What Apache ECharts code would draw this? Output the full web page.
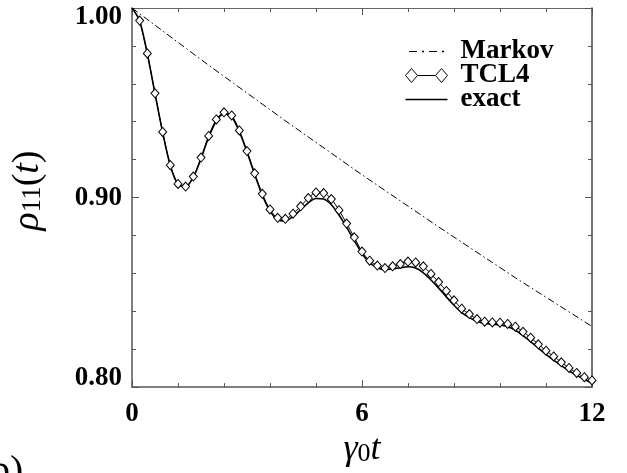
<!DOCTYPE html>
<html><head><meta charset="utf-8">
<script src="https://cdn.jsdelivr.net/npm/echarts@6/dist/echarts.min.js"></script>
<style>html,body{margin:0;padding:0;background:#fff}#c{width:627px;height:473px}</style>
</head><body><div id="c"></div>
<script>
// time grid (gamma0 t)
const tGrid = [0,0.2,0.4,0.6,0.8,1.0,1.2,1.4,1.6,1.8,2.0,2.2,2.4,2.6,2.8,3.0,3.2,3.4,3.6,3.8,
  4.0,4.2,4.4,4.6,4.8,5.0,5.2,5.4,5.6,5.8,6.0,6.2,6.4,6.6,6.8,7.0,7.2,7.4,7.6,7.8,
  8.0,8.2,8.4,8.6,8.8,9.0,9.2,9.4,9.6,9.8,10.0,10.2,10.4,10.6,10.8,11.0,11.2,11.4,11.6,11.8,12.0];
// TCL4 values (diamonds), starting at t=0.2
const tcl4Vals = [0.9934,0.9760,0.9550,0.9346,0.9171,0.9072,0.9058,0.9111,0.9211,0.9325,
  0.9412,0.9450,0.9433,0.9354,0.9245,0.9128,0.9020,0.8937,0.8893,0.8888,
  0.8915,0.8954,0.8997,0.9027,0.9024,0.8992,0.8933,0.8863,0.8790,0.8715,
  0.8667,0.8641,0.8628,0.8637,0.8649,0.8662,0.8658,0.8637,0.8597,0.8554,
  0.8507,0.8458,0.8414,0.8385,0.8359,0.8345,0.8341,0.8340,0.8333,0.8319,
  0.8292,0.8261,0.8226,0.8192,0.8162,0.8131,0.8101,0.8075,0.8052,0.8035];
// exact values, starting at t=0
const exactVals = [1.0000,0.9932,0.9758,0.9548,0.9343,0.9168,0.9070,0.9057,0.9108,0.9205,
  0.9318,0.9404,0.9442,0.9425,0.9348,0.9240,0.9122,0.9012,0.8928,0.8883,
  0.8877,0.8900,0.8936,0.8972,0.8995,0.8992,0.8962,0.8908,0.8843,0.8773,
  0.8705,0.8656,0.8630,0.8620,0.8624,0.8630,0.8635,0.8628,0.8603,0.8565,
  0.8522,0.8476,0.8432,0.8393,0.8367,0.8347,0.8336,0.8332,0.8328,0.8318,
  0.8300,0.8272,0.8240,0.8206,0.8173,0.8142,0.8113,0.8086,0.8062,0.8041,0.8020];
// Markov decay
const markovT = [0,2,4,6,8,10,12];
const markovVals = [1.0000,0.9698,0.9405,0.9120,0.8845,0.8577,0.8320];
const xTickLabels = ['0','6','12'];
const yTickLabels = ['0.80','0.90','1.00'];

const SERIF = "'Liberation Serif','Times New Roman',serif";
const chart = echarts.init(document.getElementById('c'));

const tcl4Data = tcl4Vals.map((v,i)=>[tGrid[i+1], v]);
const exactData = exactVals.map((v,i)=>[tGrid[i], v]);
const markovData = markovVals.map((v,i)=>[markovT[i], v]);

const axisLineStyle = {color:'#555', width:1.5};
const lblStyle = {fontFamily:SERIF, fontWeight:'bold', fontSize:27, color:'#000'};

chart.setOption({
  animation:false,
  backgroundColor:'#fff',
  grid:{left:132, right:35, top:8, bottom:82, containLabel:false},
  xAxis:[{
    type:'value', min:0, max:12, interval:6, position:'bottom',
    axisLine:{show:true, onZero:false, lineStyle:axisLineStyle},
    axisTick:{show:true, inside:true, length:7, lineStyle:{color:'#555', width:1}},
    minorTick:{show:true, splitNumber:5, length:4, lineStyle:{color:'#555', width:1}},
    splitLine:{show:false},
    axisLabel:Object.assign({margin:13, formatter:v=>xTickLabels[Math.round(v/6)]}, lblStyle),
    name:'{g|γ}{s|0}{t|t}', nameLocation:'middle', nameGap:37,
    nameTextStyle:{rich:{
      g:{fontFamily:SERIF, fontStyle:'italic', fontSize:36, color:'#000'},
      s:{fontFamily:SERIF, fontSize:26, color:'#000', padding:[8,0,0,0]},
      t:{fontFamily:SERIF, fontStyle:'italic', fontSize:36, color:'#000'}
    }}
  },{
    type:'value', min:0, max:12, interval:6, position:'top',
    axisLine:{show:true, onZero:false, lineStyle:{color:'#666', width:1}},
    axisTick:{show:true, inside:true, length:7, lineStyle:{color:'#555', width:1}},
    minorTick:{show:true, splitNumber:5, length:4, lineStyle:{color:'#555', width:1}},
    splitLine:{show:false}, axisLabel:{show:false}
  }],
  yAxis:[{
    type:'value', min:0.8, max:1.0, interval:0.1, position:'left',
    axisLine:{show:true, onZero:false, lineStyle:axisLineStyle},
    axisTick:{show:true, inside:true, length:7, lineStyle:{color:'#555', width:1}},
    minorTick:{show:true, splitNumber:5, length:4, lineStyle:{color:'#555', width:1}},
    splitLine:{show:false},
    axisLabel:Object.assign({margin:10,
      formatter:v=>{
        const idx = Math.round((v-0.8)/0.1);
        const s = yTickLabels[idx];
        if(idx===2) return '{hi|'+s+'}';
        if(idx===0) return '{lo|'+s+'}';
        return '{n|'+s+'}';
      },
      rich:{
        hi:Object.assign({padding:[19,0,0,0]}, lblStyle),
        lo:Object.assign({padding:[0,0,18,0]}, lblStyle),
        n:Object.assign({}, lblStyle)
      }}, lblStyle),
    name:'{r|ρ}{s|11}{p|(}{t|t}{p|)}', nameLocation:'middle', nameGap:85, nameRotate:90,
    nameTextStyle:{rich:{
      r:{fontFamily:SERIF, fontStyle:'italic', fontSize:38, color:'#000', padding:[0,0,0,14]},
      s:{fontFamily:SERIF, fontSize:27, color:'#000', padding:[10,0,0,0]},
      p:{fontFamily:SERIF, fontSize:38, color:'#000'},
      t:{fontFamily:SERIF, fontStyle:'italic', fontSize:38, color:'#000'}
    }}
  },{
    type:'value', min:0.8, max:1.0, interval:0.1, position:'right',
    axisLine:{show:true, onZero:false, lineStyle:{color:'#444', width:1.5}},
    axisTick:{show:true, inside:true, length:7, lineStyle:{color:'#555', width:1}},
    minorTick:{show:true, splitNumber:5, length:4, lineStyle:{color:'#555', width:1}},
    splitLine:{show:false}, axisLabel:{show:false}
  }],
  legend:{
    orient:'vertical', left:400, top:33, itemWidth:42, itemHeight:14, itemGap:-3,
    textStyle:{fontFamily:SERIF, fontWeight:'bold', fontSize:27, color:'#000', padding:[0,0,0,8]},
    data:[
      {name:'Markov', icon:'path://M0,0L0,0 M0,14L0,14 M0,6.4L8,6.4L8,7.6L0,7.6Z M13,6.3L15,6.3L15,7.7L13,7.7Z M20,6.4L28,6.4L28,7.6L20,7.6Z M33,6.3L35,6.3L35,7.7L33,7.7Z',
        itemStyle:{color:'#000', borderWidth:0}},
      {name:'TCL4', icon:'path://M0,7L6,0L12,7L6,14Z M12,7L30,7 M30,7L36,0L42,7L36,14Z',
        itemStyle:{color:'#fff', borderColor:'#000', borderWidth:1}},
      {name:'exact', icon:'path://M0,0L0,0 M0,14L0,14 M0,6.3L42,6.3L42,7.7L0,7.7Z',
        itemStyle:{color:'#000', borderWidth:0}}
    ]
  },
  graphic:[{type:'text', left:-10, top:452, style:{text:'b)', fontFamily:SERIF, fontSize:40, fill:'#000'}}],
  series:[
    {name:'Markov', type:'line', data:markovData, symbol:'none', smooth:false,
      lineStyle:{color:'#000', width:1, type:[7,3,1.5,3]}, itemStyle:{color:'#000'}, z:2},
    {name:'exact', type:'line', data:exactData, symbol:'none', smooth:0.3,
      lineStyle:{color:'#000', width:1.6}, itemStyle:{color:'#000'}, z:3},
    {name:'TCL4', type:'line', data:tcl4Data, symbol:'diamond', symbolSize:[8,9], smooth:0.3,
      showAllSymbol:true, clip:true,
      lineStyle:{color:'#000', width:1}, itemStyle:{color:'#fff', borderColor:'#000', borderWidth:1}, z:4}
  ]
});
</script></body></html>
